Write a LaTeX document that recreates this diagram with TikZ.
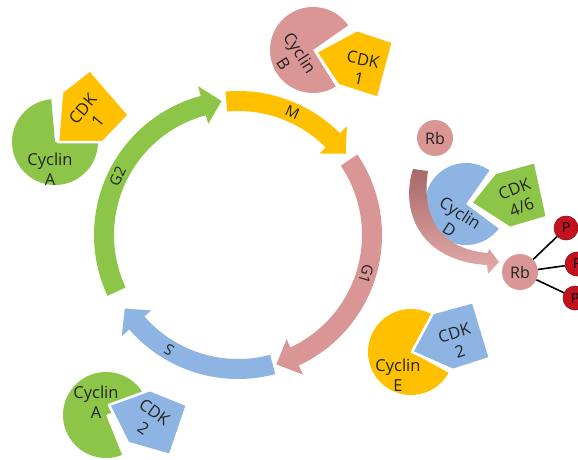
\documentclass[tikz,border=0pt]{standalone}
\usepackage{fontspec}
\setmainfont{Open Sans}
\usetikzlibrary{calc}
\definecolor{cgreen}{RGB}{141,197,72}
\definecolor{cyellow}{RGB}{255,192,0}
\definecolor{cpink}{RGB}{217,150,148}
\definecolor{cblue}{RGB}{141,180,226}
\definecolor{cred}{RGB}{196,18,30}
\definecolor{rbdark}{RGB}{168,104,104}
\definecolor{rblight}{RGB}{228,172,170}
\definecolor{ctext}{RGB}{35,35,35}
\newcommand{\cpie}[5]{\fill[#1,shift={(#2)}] (0,0) -- (#5:#3) arc[start angle=#5,end angle=#4+360,radius=#3] -- cycle;}
\newcommand{\cphase}[4]{\fill[#1,shift={(238,224)}] (#2:144) arc[start angle=#2,end angle=#3,radius=144] -- (#3:154) -- (#4:135) -- (#3:115) -- (#3:124) arc[start angle=#3,end angle=#2,radius=124] -- cycle;}
\begin{document}
\begin{tikzpicture}[x=1pt,y=1pt,
  txt/.style={font=\fontsize{16.5}{19.5}\selectfont, text=ctext, align=center, inner sep=0pt},
  lbl/.style={font=\fontsize{15}{17}\selectfont, text=ctext, inner sep=0pt},
  pent/.style={draw=white, line width=2.5pt, line join=round},
  rbnode/.style={circle, fill=cpink, minimum size=36pt, inner sep=0pt, font=\fontsize{16}{18}\selectfont, text=ctext},
  pnode/.style={circle, fill=cred, draw=cred!70!black, line width=0.6pt, minimum size=24pt, inner sep=0pt, font=\fontsize{14}{16}\selectfont, text=black},
  link/.style={line width=1.6pt, black}]
\useasboundingbox (0,0) rectangle (578,459);
\clip (0,0) rectangle (578,459);
\coordinate (C) at (238,224);
% cycle arrows
\cphase{cyellow}{95}{45}{37}
\cphase{cpink}{34}{-65}{-73.5}
\cphase{cblue}{-75}{-139}{-147}
\cphase{cgreen}{205}{105}{97}
\node[lbl, rotate=-24] (lM) at ($(C)+(66:134)$) {M};
\node[lbl, rotate=-107] (lG1) at ($(C)+(-17:134)$) {G1};
\node[lbl, rotate=149] (lS) at ($(C)+(-121:134)$) {S};
\node[lbl, rotate=64] (lG2) at ($(C)+(154:134)$) {G2};
% complex 1: Cyclin A + CDK 1
\cpie{cgreen}{55,317}{43}{0}{95}
\filldraw[fill=cyellow, pent] (58,317) -- (62,367) -- (90,389) -- (129,344) -- (103,317) -- cycle;
\node[txt, rotate=50] (cdk1a) at (90,344) {CDK\\1};
\node[txt] (cyca) at (50,290) {Cyclin\\A};
% complex 2: Cyclin B + CDK 1
\cpie{cpink}{313,409}{43}{-58}{35}
\filldraw[fill=cyellow, pent] (316,407) -- (357,429) -- (393,417) -- (378,361) -- (338,374) -- cycle;
\node[txt, rotate=-57] (cycb) at (292,401) {Cyclin\\B};
\node[txt, rotate=-12] (cdk1b) at (361,390) {CDK\\1};
% complex 3: Cyclin D + CDK 4/6
\cpie{cblue}{466,255}{41}{-37}{55}
\filldraw[fill=cgreen, pent] (471,256) -- (495,286) -- (535,297) -- (547,242) -- (510,231) -- cycle;
\node[txt, rotate=22] (cdk46) at (518,261) {CDK\\4/6};
\node[txt, rotate=-33] (cycd) at (455,238) {Cyclin\\D};
% complex 4: Cyclin E + CDK 2
\cpie{cyellow}{411,107}{43}{-29}{62}
\filldraw[fill=cblue, pent] (412,107) -- (433,146) -- (473,157) -- (490,101) -- (453,89) -- cycle;
\node[txt, rotate=17] (cdk2e) at (457,117) {CDK\\2};
\node[txt] (cyce) at (398,84) {Cyclin\\E};
% complex 5: Cyclin A + CDK 2
\cpie{cgreen}{106,44}{43}{-68}{25}
\filldraw[fill=cblue, pent] (109,54) -- (150,69) -- (187,54) -- (170,4) -- (128,16) -- cycle;
\node[txt, rotate=-35] (cdk2a) at (149,39) {CDK\\2};
\node[txt] (cyca2) at (96,57) {Cyclin\\A};
% Rb phosphorylation
\shade[top color=rbdark, bottom color=rblight]
  (413,290) .. controls (400,250) and (418,198) .. (487,194)
  -- (488,185) -- (499,197) -- (489,210)
  -- (488,206) .. controls (438,210) and (421,245) .. (428,288) -- cycle;
\node[rbnode] (rb1) at (435,321) {Rb};
\node[rbnode] (rb2) at (520,187) {Rb};
\node[pnode] (p1) at (566,231) {P};
\node[pnode] (p2) at (577,195) {P};
\node[pnode] (p3) at (575,161) {P};
\draw[link] (rb2) -- (p1);
\draw[link] (rb2) -- (p2);
\draw[link] (rb2) -- (p3);
\end{tikzpicture}
\end{document}
